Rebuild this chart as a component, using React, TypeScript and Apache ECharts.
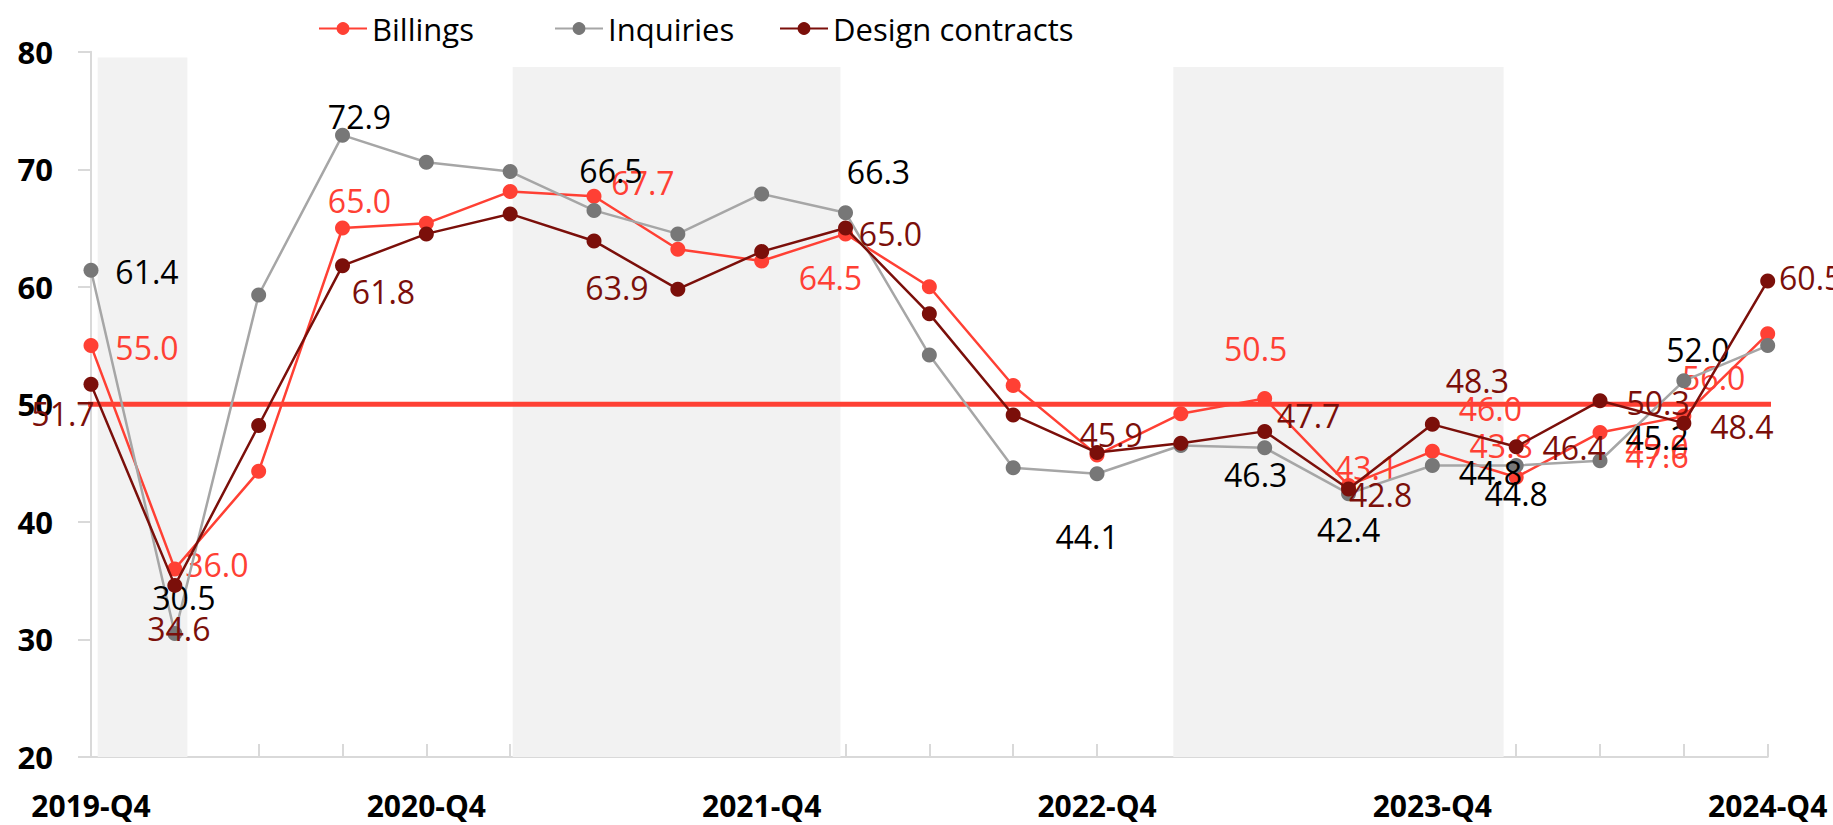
import React, { useEffect, useRef } from "react";
import * as echarts from "echarts";

const categories = [
  "2019-Q4", "2020-Q1", "2020-Q2", "2020-Q3", "2020-Q4", "2021-Q1", "2021-Q2",
  "2021-Q3", "2021-Q4", "2022-Q1", "2022-Q2", "2022-Q3", "2022-Q4", "2023-Q1",
  "2023-Q2", "2023-Q3", "2023-Q4", "2024-Q1", "2024-Q2", "2024-Q3", "2024-Q4",
];

const billings = [55.0, 36.0, 44.3, 65.0, 65.4, 68.1, 67.7, 63.2, 62.2, 64.5, 60.0, 51.6, 45.7, 49.2, 50.5, 43.1, 46.0, 43.8, 47.6, 49.0, 56.0];
const inquiries = [61.4, 30.5, 59.3, 72.9, 70.6, 69.8, 66.5, 64.5, 67.9, 66.3, 54.2, 44.6, 44.1, 46.5, 46.3, 42.4, 44.8, 44.8, 45.2, 52.0, 55.0];
const designContracts = [51.7, 34.6, 48.2, 61.8, 64.5, 66.2, 63.9, 59.8, 63.0, 65.0, 57.7, 49.1, 45.9, 46.7, 47.7, 42.8, 48.3, 46.4, 50.3, 48.4, 60.5];

const billingsLabels = ["55.0", "36.0", null, "65.0", null, null, "67.7", null, null, "64.5", null, null, null, null, "50.5", "43.1", "46.0", "43.8", "47.6", "49.0", "56.0"];
const inquiriesLabels = ["61.4", "30.5", null, "72.9", null, null, "66.5", null, null, "66.3", null, null, "44.1", null, "46.3", "42.4", "44.8", "44.8", "45.2", "52.0", null];
const designLabels = ["51.7", "34.6", null, "61.8", null, null, "63.9", null, null, "65.0", null, null, "45.9", null, "47.7", "42.8", "48.3", "46.4", "50.3", "48.4", "60.5"];

const threshold = 50;
// shaded periods in category units: start, end, top value
const shadedStart = [0.08, 5.03, 12.91];
const shadedEnd = [1.15, 8.94, 16.85];
const shadedTop = [79.5, 78.7, 78.7];

// label placement (layout, px offsets from the point)
const billingsOffsets: Record<number, [number, number]> = {
  0: [56, 2], 1: [42, -4], 3: [17, -28], 6: [49, -14], 9: [-15, 44], 14: [-9, -50],
  15: [18, -18], 16: [58, -43], 17: [-15, -32], 18: [57, 23], 19: [-27, 30], 20: [-54, 44],
};
const inquiriesOffsets: Record<number, [number, number]> = {
  0: [56, 1], 1: [9, -36], 3: [17, -19], 6: [17, -40], 9: [33, -41], 12: [-10, 63],
  14: [-9, 27], 15: [0, 36], 16: [58, 7], 17: [0, 28], 18: [57, -23], 19: [14, -31],
};
const designOffsets: Record<number, [number, number]> = {
  0: [-28, 29], 1: [4, 43], 3: [41, 26], 6: [23, 47], 9: [45, 5], 12: [14, -18],
  14: [44, -16], 15: [32, 6], 16: [45, -44], 17: [58, 1], 18: [58, 2], 19: [58, 3], 20: [43, -3],
};

const RED = "#ff4034";
const DARK = "#7b0f0a";
const GRAY_LINE = "#a6a6a6";
const GRAY_DOT = "#777777";
const AXIS = "#d9d9d9";
const FONT = "'Open Sans', 'Noto Sans', sans-serif";

function buildData(values: number[], labels: (string | null)[], offsets: Record<number, [number, number]>) {
  return values.map((v, i) => {
    const t = labels[i];
    if (!t) return { value: v, label: { show: false } };
    const o = offsets[i] || [0, 0];
    return { value: v, label: { show: true, formatter: t, offset: [o[0], o[1]] } };
  });
}

export default function App() {
  const ref = useRef<HTMLDivElement>(null);
  useEffect(() => {
    if (!ref.current) return;
    const chart = echarts.init(ref.current, null, { renderer: "svg" });
    const labelBase = {
      position: "inside" as const,
      fontFamily: FONT,
      fontSize: 32,
      align: "center" as const,
      verticalAlign: "middle" as const,
    };
    const legendBase = {
      top: 8,
      itemWidth: 48,
      itemHeight: 16,
      textStyle: { fontFamily: FONT, fontSize: 31, color: "#000", lineHeight: 30 },
    };
    chart.setOption({
      animation: false,
      backgroundColor: "#ffffff",
      legend: [
        { ...legendBase, left: 313, data: ["Billings"] },
        { ...legendBase, left: 549, data: ["Inquiries"] },
        { ...legendBase, left: 774, data: ["Design contracts"] },
      ],
      grid: {
        left: 91,
        right: 65.3,
        top: 51.7,
        bottom: 68,
        containLabel: false,
        outerBoundsMode: "none",
      },
      xAxis: [
        {
          type: "category",
          data: categories,
          boundaryGap: false,
          axisLine: { lineStyle: { color: AXIS, width: 2 } },
          axisTick: { show: true, inside: true, length: 13, interval: 0, lineStyle: { color: AXIS, width: 2 } },
          axisLabel: {
            interval: 3,
            margin: 33,
            lineHeight: 30,
            fontFamily: FONT,
            fontWeight: "bold",
            fontSize: 30,
            color: "#000",
          },
          splitLine: { show: false },
        },
        { type: "value", min: 0, max: 20, show: false },
      ],
      yAxis: {
        type: "value",
        min: 20,
        max: 80,
        interval: 10,
        axisLine: { show: true, lineStyle: { color: AXIS, width: 2 } },
        axisTick: { show: true, length: 13, lineStyle: { color: AXIS, width: 2 } },
        axisLabel: { margin: 38, fontFamily: FONT, fontWeight: "bold", fontSize: 31, color: "#000" },
        splitLine: { show: false },
      },
      series: [
        {
          name: "bands",
          type: "line",
          xAxisIndex: 1,
          data: [[0, 20]],
          symbol: "none",
          silent: true,
          lineStyle: { opacity: 0 },
          z: 0,
          markArea: {
            silent: true,
            itemStyle: { color: "#f2f2f2" },
            data: shadedStart.map((s, i) => [
              { coord: [s, 20] },
              { coord: [shadedEnd[i], shadedTop[i]] },
            ]),
          },
        },
        {
          name: "threshold",
          type: "line",
          xAxisIndex: 1,
          data: [[-0.08, threshold], [20.8, threshold]],
          symbol: "none",
          clip: false,
          silent: true,
          lineStyle: { color: RED, width: 5 },
          z: 1,
        },
        {
          name: "Billings",
          type: "line",
          data: buildData(billings, billingsLabels, billingsOffsets),
          symbol: "circle",
          symbolSize: 15,
          lineStyle: { color: RED, width: 2.5 },
          itemStyle: { color: RED },
          label: { ...labelBase, color: RED },
          z: 2,
        },
        {
          name: "Inquiries",
          type: "line",
          data: buildData(inquiries, inquiriesLabels, inquiriesOffsets),
          symbol: "circle",
          symbolSize: 15,
          lineStyle: { color: GRAY_LINE, width: 2.5 },
          itemStyle: { color: GRAY_DOT },
          label: { ...labelBase, color: "#000" },
          z: 3,
        },
        {
          name: "Design contracts",
          type: "line",
          data: buildData(designContracts, designLabels, designOffsets),
          symbol: "circle",
          symbolSize: 15,
          lineStyle: { color: DARK, width: 2.5 },
          itemStyle: { color: DARK },
          label: { ...labelBase, color: DARK },
          z: 4,
        },
      ],
    });
    return () => chart.dispose();
  }, []);
  return (
    <div
      ref={ref}
      style={{ position: "absolute", left: 0, top: 0, width: 1833, height: 825 }}
    />
  );
}
